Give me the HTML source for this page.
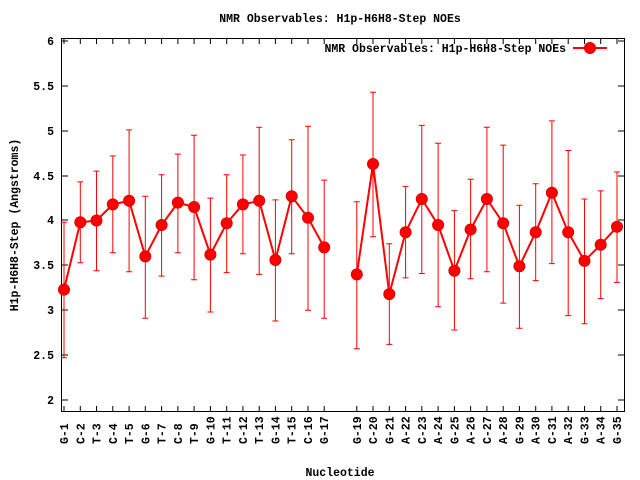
<!DOCTYPE html>
<html><head><meta charset="utf-8"><style>
html,body{margin:0;padding:0;background:#fff;}
svg{display:block;}
text{font-family:"Liberation Mono","DejaVu Sans Mono",monospace;font-weight:bold;font-size:11.5px;fill:#000;}
</style></head><body>
<svg width="640" height="480" viewBox="0 0 640 480" xmlns="http://www.w3.org/2000/svg">
<rect width="640" height="480" fill="#fff"/>
<text x="340" y="22" text-anchor="middle">NMR Observables: H1p-H6H8-Step NOEs</text>
<g stroke="#000" stroke-width="1" fill="none">
<rect x="61.5" y="38.5" width="563" height="373"/>
<path d="M62 41h6M624 41h-6M62 86h6M624 86h-6M62 131h6M624 131h-6M62 176h6M624 176h-6M62 220h6M624 220h-6M62 265h6M624 265h-6M62 310h6M624 310h-6M62 355h6M624 355h-6M62 400h6M624 400h-6"/>
<path d="M64 411v-5M80.3 411v-5M96.5 411v-5M112.8 411v-5M129.1 411v-5M145.3 411v-5M161.6 411v-5M177.9 411v-5M194.1 411v-5M210.4 411v-5M226.7 411v-5M242.9 411v-5M259.2 411v-5M275.4 411v-5M291.7 411v-5M308 411v-5M324.2 411v-5M356.8 411v-5M373 411v-5M389.3 411v-5M405.6 411v-5M421.8 411v-5M438.1 411v-5M454.4 411v-5M470.6 411v-5M486.9 411v-5M503.2 411v-5M519.4 411v-5M535.7 411v-5M551.9 411v-5M568.2 411v-5M584.5 411v-5M600.7 411v-5M617 411v-5"/>
<path d="M64 39v5M80.3 39v5M96.5 39v5M112.8 39v5M129.1 39v5M145.3 39v5M161.6 39v5M177.9 39v5M194.1 39v5M210.4 39v5M226.7 39v5M242.9 39v5M259.2 39v5M275.4 39v5M291.7 39v5M308 39v5M324.2 39v5M356.8 39v5M373 39v5M389.3 39v5M405.6 39v5M421.8 39v5M438.1 39v5M454.4 39v5M470.6 39v5M486.9 39v5M503.2 39v5M519.4 39v5M535.7 39v5M551.9 39v5M568.2 39v5M584.5 39v5M600.7 39v5M617 39v5"/>
</g>
<g text-anchor="end">
<text x="54" y="45">6</text><text x="54" y="90">5.5</text><text x="54" y="135">5</text><text x="54" y="180">4.5</text><text x="54" y="224">4</text><text x="54" y="269">3.5</text><text x="54" y="314">3</text><text x="54" y="359">2.5</text><text x="54" y="404">2</text>
</g>
<text transform="translate(18,225) rotate(-90)" text-anchor="middle">H1p-H6H8-Step (Angstroms)</text>
<text x="340" y="476" text-anchor="middle">Nucleotide</text>
<g text-anchor="start">
<text transform="translate(68,444) rotate(-90)">G-1</text>
<text transform="translate(84.3,444) rotate(-90)">C-2</text>
<text transform="translate(100.5,444) rotate(-90)">T-3</text>
<text transform="translate(116.8,444) rotate(-90)">C-4</text>
<text transform="translate(133.1,444) rotate(-90)">T-5</text>
<text transform="translate(149.3,444) rotate(-90)">G-6</text>
<text transform="translate(165.6,444) rotate(-90)">T-7</text>
<text transform="translate(181.9,444) rotate(-90)">C-8</text>
<text transform="translate(198.1,444) rotate(-90)">T-9</text>
<text transform="translate(214.4,444) rotate(-90)">G-10</text>
<text transform="translate(230.7,444) rotate(-90)">T-11</text>
<text transform="translate(246.9,444) rotate(-90)">C-12</text>
<text transform="translate(263.2,444) rotate(-90)">T-13</text>
<text transform="translate(279.4,444) rotate(-90)">G-14</text>
<text transform="translate(295.7,444) rotate(-90)">T-15</text>
<text transform="translate(312,444) rotate(-90)">C-16</text>
<text transform="translate(328.2,444) rotate(-90)">G-17</text>
<text transform="translate(360.8,444) rotate(-90)">G-19</text>
<text transform="translate(377,444) rotate(-90)">C-20</text>
<text transform="translate(393.3,444) rotate(-90)">G-21</text>
<text transform="translate(409.6,444) rotate(-90)">A-22</text>
<text transform="translate(425.8,444) rotate(-90)">C-23</text>
<text transform="translate(442.1,444) rotate(-90)">A-24</text>
<text transform="translate(458.4,444) rotate(-90)">G-25</text>
<text transform="translate(474.6,444) rotate(-90)">A-26</text>
<text transform="translate(490.9,444) rotate(-90)">C-27</text>
<text transform="translate(507.2,444) rotate(-90)">A-28</text>
<text transform="translate(523.4,444) rotate(-90)">G-29</text>
<text transform="translate(539.7,444) rotate(-90)">A-30</text>
<text transform="translate(555.9,444) rotate(-90)">C-31</text>
<text transform="translate(572.2,444) rotate(-90)">A-32</text>
<text transform="translate(588.5,444) rotate(-90)">G-33</text>
<text transform="translate(604.7,444) rotate(-90)">A-34</text>
<text transform="translate(621,444) rotate(-90)">G-35</text>
</g>
<text x="566" y="52" text-anchor="end">NMR Observables: H1p-H6H8-Step NOEs</text>
<g stroke="#f00" stroke-width="1" fill="none">
<path d="M64 222.3V357.8M61 222.3h6M61 357.8h6
M80.3 181.9V262.7M77.3 181.9h6M77.3 262.7h6
M96.5 171.1V270.8M93.5 171.1h6M93.5 270.8h6
M112.8 155.9V252.8M109.8 155.9h6M109.8 252.8h6
M129.1 129.9V271.7M126.1 129.9h6M126.1 271.7h6
M145.3 196.3V318.3M142.3 196.3h6M142.3 318.3h6
M161.6 174.7V276.1M158.6 174.7h6M158.6 276.1h6
M177.9 154.1V252.8M174.9 154.1h6M174.9 252.8h6
M194.1 135.2V279.7M191.1 135.2h6M191.1 279.7h6
M210.4 198.1V312M207.4 198.1h6M207.4 312h6
M226.7 174.7V272.6M223.7 174.7h6M223.7 272.6h6
M242.9 155V253.7M239.9 155h6M239.9 253.7h6
M259.2 127.2V274.4M256.2 127.2h6M256.2 274.4h6
M275.4 199.9V321M272.4 199.9h6M272.4 321h6
M291.7 139.7V253.7M288.7 139.7h6M288.7 253.7h6
M308 126.3V310.3M305 126.3h6M305 310.3h6
M324.2 180.1V318.3M321.2 180.1h6M321.2 318.3h6
M356.8 201.7V348.8M353.8 201.7h6M353.8 348.8h6
M373 92.2V236.7M370 92.2h6M370 236.7h6
M389.3 243.8V344.4M386.3 243.8h6M386.3 344.4h6
M405.6 186.4V277.9M402.6 186.4h6M402.6 277.9h6
M421.8 125.4V273.5M418.8 125.4h6M418.8 273.5h6
M438.1 143.3V306.7M435.1 143.3h6M435.1 306.7h6
M454.4 210.6V330M451.4 210.6h6M451.4 330h6
M470.6 179.2V278.8M467.6 179.2h6M467.6 278.8h6
M486.9 127.2V271.7M483.9 127.2h6M483.9 271.7h6
M503.2 145.1V303.1M500.2 145.1h6M500.2 303.1h6
M519.4 205.2V328.2M516.4 205.2h6M516.4 328.2h6
M535.7 183.7V280.6M532.7 183.7h6M532.7 280.6h6
M551.9 120.9V263.6M548.9 120.9h6M548.9 263.6h6
M568.2 150.5V315.6M565.2 150.5h6M565.2 315.6h6
M584.5 199V323.7M581.5 199h6M581.5 323.7h6
M600.7 190.9V298.6M597.7 190.9h6M597.7 298.6h6
M617 172V282.4M614 172h6M614 282.4h6"/>
</g>
<g stroke="#f00" stroke-width="2" fill="none">
<polyline points="64,289.6 80.3,222.3 96.5,220.5 112.8,204.4 129.1,200.8 145.3,256.4 161.6,225 177.9,202.6 194.1,207 210.4,254.6 226.7,223.2 242.9,204.4 259.2,200.8 275.4,260 291.7,196.3 308,217.8 324.2,247.4"/>
<polyline points="356.8,274.4 373,164 389.3,294.1 405.6,232.2 421.8,199 438.1,225 454.4,270.8 470.6,229.5 486.9,199 503.2,223.2 519.4,266.3 535.7,232.2 551.9,192.7 568.2,232.2 584.5,260.9 600.7,244.7 617,226.8"/>
<path d="M573 48h34"/>
</g>
<g fill="#f00" stroke="#d00" stroke-width="1">
<circle cx="64" cy="289.6" r="5.5"/><circle cx="80.3" cy="222.3" r="5.5"/><circle cx="96.5" cy="220.5" r="5.5"/><circle cx="112.8" cy="204.4" r="5.5"/><circle cx="129.1" cy="200.8" r="5.5"/><circle cx="145.3" cy="256.4" r="5.5"/><circle cx="161.6" cy="225" r="5.5"/><circle cx="177.9" cy="202.6" r="5.5"/><circle cx="194.1" cy="207" r="5.5"/><circle cx="210.4" cy="254.6" r="5.5"/><circle cx="226.7" cy="223.2" r="5.5"/><circle cx="242.9" cy="204.4" r="5.5"/><circle cx="259.2" cy="200.8" r="5.5"/><circle cx="275.4" cy="260" r="5.5"/><circle cx="291.7" cy="196.3" r="5.5"/><circle cx="308" cy="217.8" r="5.5"/><circle cx="324.2" cy="247.4" r="5.5"/>
<circle cx="356.8" cy="274.4" r="5.5"/><circle cx="373" cy="164" r="5.5"/><circle cx="389.3" cy="294.1" r="5.5"/><circle cx="405.6" cy="232.2" r="5.5"/><circle cx="421.8" cy="199" r="5.5"/><circle cx="438.1" cy="225" r="5.5"/><circle cx="454.4" cy="270.8" r="5.5"/><circle cx="470.6" cy="229.5" r="5.5"/><circle cx="486.9" cy="199" r="5.5"/><circle cx="503.2" cy="223.2" r="5.5"/><circle cx="519.4" cy="266.3" r="5.5"/><circle cx="535.7" cy="232.2" r="5.5"/><circle cx="551.9" cy="192.7" r="5.5"/><circle cx="568.2" cy="232.2" r="5.5"/><circle cx="584.5" cy="260.9" r="5.5"/><circle cx="600.7" cy="244.7" r="5.5"/><circle cx="617" cy="226.8" r="5.5"/>
<circle cx="590" cy="48" r="5.5"/>
</g>
</svg>
</body></html>
